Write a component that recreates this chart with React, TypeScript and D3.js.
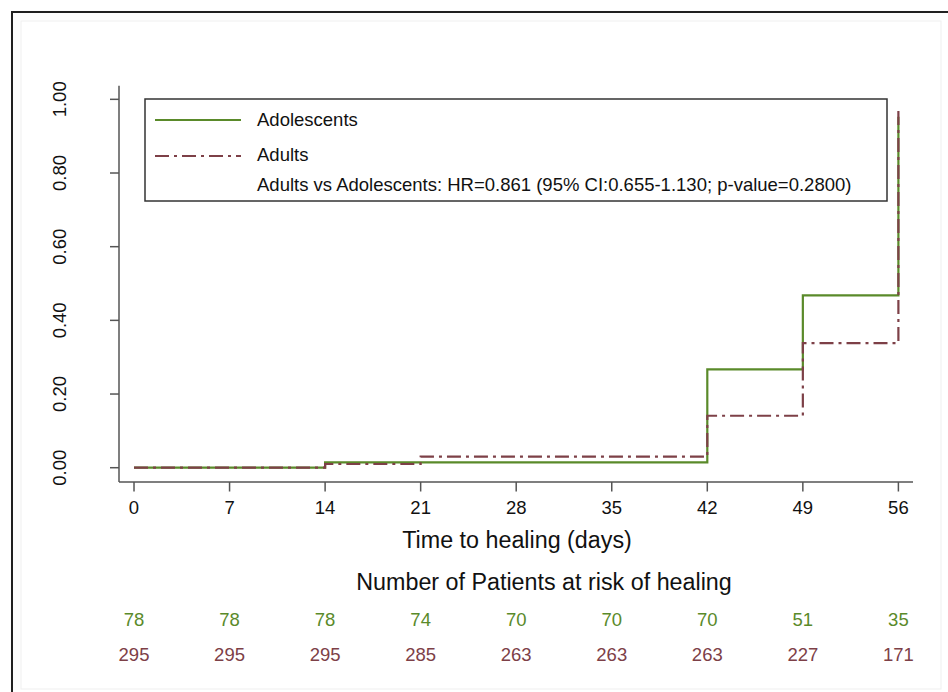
import { useEffect, useRef } from "react";
import * as d3 from "d3";

// Kaplan-Meier style cumulative healing
const TIMES = [0, 14, 21, 42, 49, 56];
const ADOLESCENTS = [0, 0.0147, 0.0147, 0.267, 0.468, 0.953];
const ADULTS = [0, 0.010, 0.030, 0.141, 0.338, 0.969];

const X_TICKS = [0, 7, 14, 21, 28, 35, 42, 49, 56];
const Y_TICKS = [0, 0.2, 0.4, 0.6, 0.8, 1.0];

const RISK_ADOLESCENTS = [78, 78, 78, 74, 70, 70, 70, 51, 35];
const RISK_ADULTS = [295, 295, 295, 285, 263, 263, 263, 227, 171];

const GREEN = "#5a8a2a";
const MAROON = "#7d4047";
const FONT = "'Liberation Sans', Arial, Helvetica, sans-serif";
const SMALL = "18.5px";
const BIG = "23.3px";

export default function App() {
  const svgRef = useRef<SVGSVGElement>(null);

  useEffect(() => {
    if (!svgRef.current) return;
    const W = 948;
    const H = 692;

    d3.select(svgRef.current).selectAll("*").remove();
    const svg = d3.select(svgRef.current).attr("width", W).attr("height", H);

    // outer frame
    svg.append("rect")
      .attr("x", 21).attr("y", 21).attr("width", 920).attr("height", 668)
      .attr("fill", "none").attr("stroke", "#efefef").attr("stroke-width", 1);
    svg.append("path")
      .attr("d", `M12,${H} L12,12 L${W},12`)
      .attr("fill", "none").attr("stroke", "#222").attr("stroke-width", 2);

    const x = d3.scaleLinear().domain([-1.1, 57.07]).range([119, 913]);
    const y = d3.scaleLinear().domain([-0.0388, 1.037]).range([482, 85.7]);

    // axes lines
    svg.append("line")
      .attr("x1", x.range()[0]).attr("x2", x.range()[1])
      .attr("y1", 482).attr("y2", 482)
      .attr("stroke", "#555").attr("stroke-width", 1.5);
    svg.append("line")
      .attr("x1", 119).attr("x2", 119)
      .attr("y1", y.range()[0]).attr("y2", y.range()[1])
      .attr("stroke", "#555").attr("stroke-width", 1.5);

    // x ticks
    X_TICKS.forEach(t => {
      svg.append("line")
        .attr("x1", x(t)).attr("x2", x(t)).attr("y1", 482).attr("y2", 491.5)
        .attr("stroke", "#555").attr("stroke-width", 1.5);
      svg.append("text")
        .attr("x", x(t)).attr("y", 508).attr("dy", "0.35em")
        .attr("text-anchor", "middle")
        .attr("font-family", FONT).attr("font-size", SMALL).attr("fill", "#111")
        .text(String(t));
    });

    // y ticks
    Y_TICKS.forEach(t => {
      svg.append("line")
        .attr("x1", 110).attr("x2", 119).attr("y1", y(t)).attr("y2", y(t))
        .attr("stroke", "#555").attr("stroke-width", 1.5);
      svg.append("text")
        .attr("transform", `translate(60,${y(t)}) rotate(-90)`)
        .attr("dy", "0.35em")
        .attr("text-anchor", "middle")
        .attr("font-family", FONT).attr("font-size", SMALL).attr("fill", "#111")
        .text(t.toFixed(2));
    });

    // step curves
    const line = d3.line<number>()
      .x((_, i) => x(TIMES[i]))
      .y(d => y(d))
      .curve(d3.curveStepAfter);

    svg.append("path")
      .attr("d", line(ADOLESCENTS))
      .attr("fill", "none").attr("stroke", GREEN).attr("stroke-width", 2.2);

    svg.append("path")
      .attr("d", line(ADULTS))
      .attr("fill", "none").attr("stroke", MAROON).attr("stroke-width", 2.2)
      .attr("stroke-dasharray", "14,5,3,5");

    // legend
    const lg = svg.append("g");
    lg.append("rect")
      .attr("x", 145).attr("y", 99).attr("width", 742).attr("height", 102)
      .attr("fill", "white").attr("stroke", "#333").attr("stroke-width", 1.5);
    lg.append("line")
      .attr("x1", 155).attr("x2", 241).attr("y1", 120).attr("y2", 120)
      .attr("stroke", GREEN).attr("stroke-width", 2.2);
    lg.append("line")
      .attr("x1", 155).attr("x2", 241).attr("y1", 156).attr("y2", 156)
      .attr("stroke", MAROON).attr("stroke-width", 2.2)
      .attr("stroke-dasharray", "14,5,3,5");
    const legendText = [
      "Adolescents",
      "Adults",
      "Adults vs Adolescents: HR=0.861 (95% CI:0.655-1.130; p-value=0.2800)",
    ];
    const legendY = [120, 155, 185];
    legendText.forEach((t, i) => {
      lg.append("text")
        .attr("x", 257).attr("y", legendY[i]).attr("dy", "0.35em")
        .attr("font-family", FONT).attr("font-size", SMALL).attr("fill", "#111")
        .text(t);
    });

    // titles
    svg.append("text")
      .attr("x", 517).attr("y", 540).attr("dy", "0.35em")
      .attr("text-anchor", "middle")
      .attr("font-family", FONT).attr("font-size", BIG).attr("fill", "#111")
      .text("Time to healing (days)");
    svg.append("text")
      .attr("x", 544).attr("y", 582).attr("dy", "0.35em")
      .attr("text-anchor", "middle")
      .attr("font-family", FONT).attr("font-size", BIG).attr("fill", "#111")
      .text("Number of Patients at risk of healing");

    // numbers at risk
    X_TICKS.forEach((t, i) => {
      svg.append("text")
        .attr("x", x(t)).attr("y", 620).attr("dy", "0.35em")
        .attr("text-anchor", "middle")
        .attr("font-family", FONT).attr("font-size", SMALL).attr("fill", GREEN)
        .text(String(RISK_ADOLESCENTS[i]));
      svg.append("text")
        .attr("x", x(t)).attr("y", 655).attr("dy", "0.35em")
        .attr("text-anchor", "middle")
        .attr("font-family", FONT).attr("font-size", SMALL).attr("fill", MAROON)
        .text(String(RISK_ADULTS[i]));
    });
  }, []);

  return (
    <svg
      ref={svgRef}
      style={{ position: "absolute", left: 0, top: 0, display: "block", background: "white" }}
    />
  );
}
